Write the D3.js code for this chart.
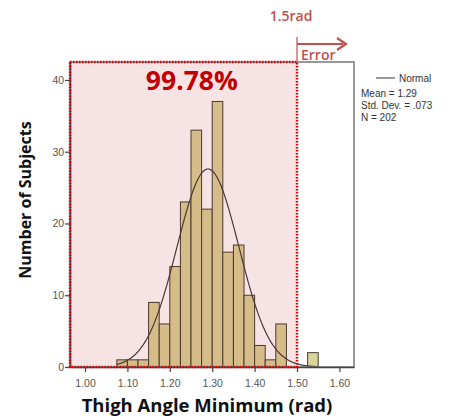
<!DOCTYPE html>
<html>
<head>
<meta charset="utf-8">
<script src="https://cdn.jsdelivr.net/npm/d3@7"></script>
<style>
  body { margin: 0; background: #fff; }
  svg { display: block; }
</style>
</head>
<body>
<div id="chart"></div>
<script>
// Histogram data (bin start in rad, count)
const binStarts = [1.075, 1.100, 1.125, 1.150, 1.175, 1.200, 1.225, 1.250, 1.275,
                   1.300, 1.325, 1.350, 1.375, 1.400, 1.425, 1.450, 1.525];
const counts    = [1, 1, 1, 9, 6, 14, 23, 33, 22, 37, 16, 17, 10, 3, 1, 6, 2];
const binWidth = 0.025;
const xTicks = [1.00, 1.10, 1.20, 1.30, 1.40, 1.50, 1.60];
const yTicks = [0, 10, 20, 30, 40];
const stats = { mean: 1.29, sd: 0.073, n: 202 };
const legendLines = ["Mean = 1.29", "Std. Dev. = .073", "N = 202"];
const threshold = 1.5;

const W = 451, H = 419;
const margin = { top: 62, right: 97, bottom: 52, left: 70 };
const width = W - margin.left - margin.right;
const height = H - margin.top - margin.bottom;

const svg = d3.select("#chart").append("svg")
    .attr("width", W)
    .attr("height", H);

const g = svg.append("g")
    .attr("transform", `translate(${margin.left}, ${margin.top})`);

const x = d3.scaleLinear().domain([0.9646, 1.6344]).range([0, width]);
const y = d3.scaleLinear().domain([0, 42.5]).range([height, 0]);

// Pink "within" region
g.append("rect")
    .attr("x", 0)
    .attr("y", 0)
    .attr("width", x(threshold))
    .attr("height", height)
    .attr("fill", "#f8e3e4");

// Bars
const bins = binStarts.map((b, i) => ({ x0: b, x1: b + binWidth, n: counts[i] }));
g.selectAll(".bar")
    .data(bins)
    .enter().append("rect")
    .attr("class", "bar")
    .attr("x", d => x(d.x0))
    .attr("y", d => y(d.n))
    .attr("width", d => x(d.x1) - x(d.x0))
    .attr("height", d => y(0) - y(d.n))
    .attr("fill", d => d.x0 >= threshold ? "#d9d49a" : "#d5bc89")
    .attr("stroke", "#4a3b30")
    .attr("stroke-width", 1);

// Normal curve
const normPts = d3.range(1.075, 1.5501, 0.002).map(v => {
    const z = (v - stats.mean) / stats.sd;
    return [v, stats.n * binWidth / (stats.sd * Math.sqrt(2 * Math.PI)) * Math.exp(-0.5 * z * z)];
});
g.append("path")
    .datum(normPts)
    .attr("fill", "none")
    .attr("stroke", "#4a3a36")
    .attr("stroke-width", 1.2)
    .attr("d", d3.line().x(d => x(d[0])).y(d => y(d[1])).curve(d3.curveBasis));

// Frame
g.append("rect")
    .attr("width", width)
    .attr("height", height)
    .attr("fill", "none")
    .attr("stroke", "#777")
    .attr("stroke-width", 1.5);

// Axes
const xAxis = g.append("g")
    .attr("transform", `translate(0, ${height})`)
    .call(d3.axisBottom(x).tickValues(xTicks).tickFormat(d3.format(".2f")).tickSize(5).tickSizeOuter(0));
const yAxis = g.append("g")
    .call(d3.axisLeft(y).tickValues(yTicks).tickSize(5).tickSizeOuter(0));
[xAxis, yAxis].forEach(a => {
    a.select(".domain").attr("stroke", "#444").attr("stroke-width", 1.5);
    a.selectAll(".tick line").attr("stroke", "#444").attr("stroke-width", 1.2);
    a.selectAll("text")
        .attr("fill", "#555")
        .style("font-family", "Arial, 'Liberation Sans', sans-serif")
        .style("font-size", "10.5px");
});
xAxis.selectAll("text").attr("dy", "1.1em");
yAxis.selectAll("text").attr("dx", "0.2em");

// Red dotted outline of region
g.append("rect")
    .attr("x", 0)
    .attr("y", 0)
    .attr("width", x(threshold))
    .attr("height", height)
    .attr("fill", "none")
    .attr("stroke", "#e00000")
    .attr("stroke-width", 2.5)
    .attr("stroke-dasharray", "1.5,1.5");

// Percentage label
g.append("text")
    .attr("x", x(1.252))
    .attr("y", 28)
    .attr("text-anchor", "middle")
    .attr("fill", "#c00000")
    .style("font-family", "'Open Sans', sans-serif")
    .style("font-weight", "bold")
    .style("font-size", "26.5px")
    .text("99.78%");

// Threshold annotation
const ac = "#c0504d";
const tx = margin.left + x(threshold);
svg.append("line")
    .attr("x1", tx).attr("x2", tx)
    .attr("y1", 37).attr("y2", margin.top)
    .attr("stroke", ac).attr("stroke-width", 1.2);
svg.append("line")
    .attr("x1", tx).attr("x2", tx + 46)
    .attr("y1", 44).attr("y2", 44)
    .attr("stroke", ac).attr("stroke-width", 2);
svg.append("path")
    .attr("d", `M${tx + 40},38 L${tx + 49},44 L${tx + 40},50`)
    .attr("fill", "none")
    .attr("stroke", ac)
    .attr("stroke-width", 2.2);
svg.append("text")
    .attr("x", tx - 6)
    .attr("y", 21)
    .attr("text-anchor", "middle")
    .attr("fill", ac)
    .style("font-family", "'Open Sans', sans-serif")
    .style("font-weight", "600")
    .style("font-size", "14px")
    .text("1.5rad");
svg.append("text")
    .attr("x", tx + 4)
    .attr("y", 60)
    .attr("fill", ac)
    .style("font-family", "'Open Sans', sans-serif")
    .style("font-weight", "600")
    .style("font-size", "14px")
    .text("Error");

// Legend
const lx = margin.left + width + 7;
svg.append("line")
    .attr("x1", lx + 15).attr("x2", lx + 34)
    .attr("y1", 78).attr("y2", 78)
    .attr("stroke", "#555").attr("stroke-width", 1.2);
const legFont = "Arial, 'Liberation Sans', sans-serif";
svg.append("text")
    .attr("x", lx + 38).attr("y", 82)
    .attr("fill", "#333")
    .style("font-family", legFont).style("font-size", "10px")
    .text("Normal");
svg.selectAll(".leg")
    .data(legendLines)
    .enter().append("text")
    .attr("class", "leg")
    .attr("x", lx)
    .attr("y", (d, i) => 97 + i * 12)
    .attr("fill", "#333")
    .style("font-family", legFont).style("font-size", "10px")
    .text(d => d);

// Axis titles
svg.append("text")
    .attr("x", 207)
    .attr("y", 412)
    .attr("text-anchor", "middle")
    .attr("fill", "#111")
    .style("font-family", "'Open Sans', sans-serif")
    .style("font-weight", "bold")
    .style("font-size", "18.5px")
    .text("Thigh Angle Minimum (rad)");
svg.append("text")
    .attr("transform", `translate(31, 200) rotate(-90)`)
    .attr("text-anchor", "middle")
    .attr("fill", "#111")
    .style("font-family", "'Open Sans', sans-serif")
    .style("font-weight", "bold")
    .style("font-size", "16px")
    .text("Number of Subjects");
</script>
</body>
</html>
